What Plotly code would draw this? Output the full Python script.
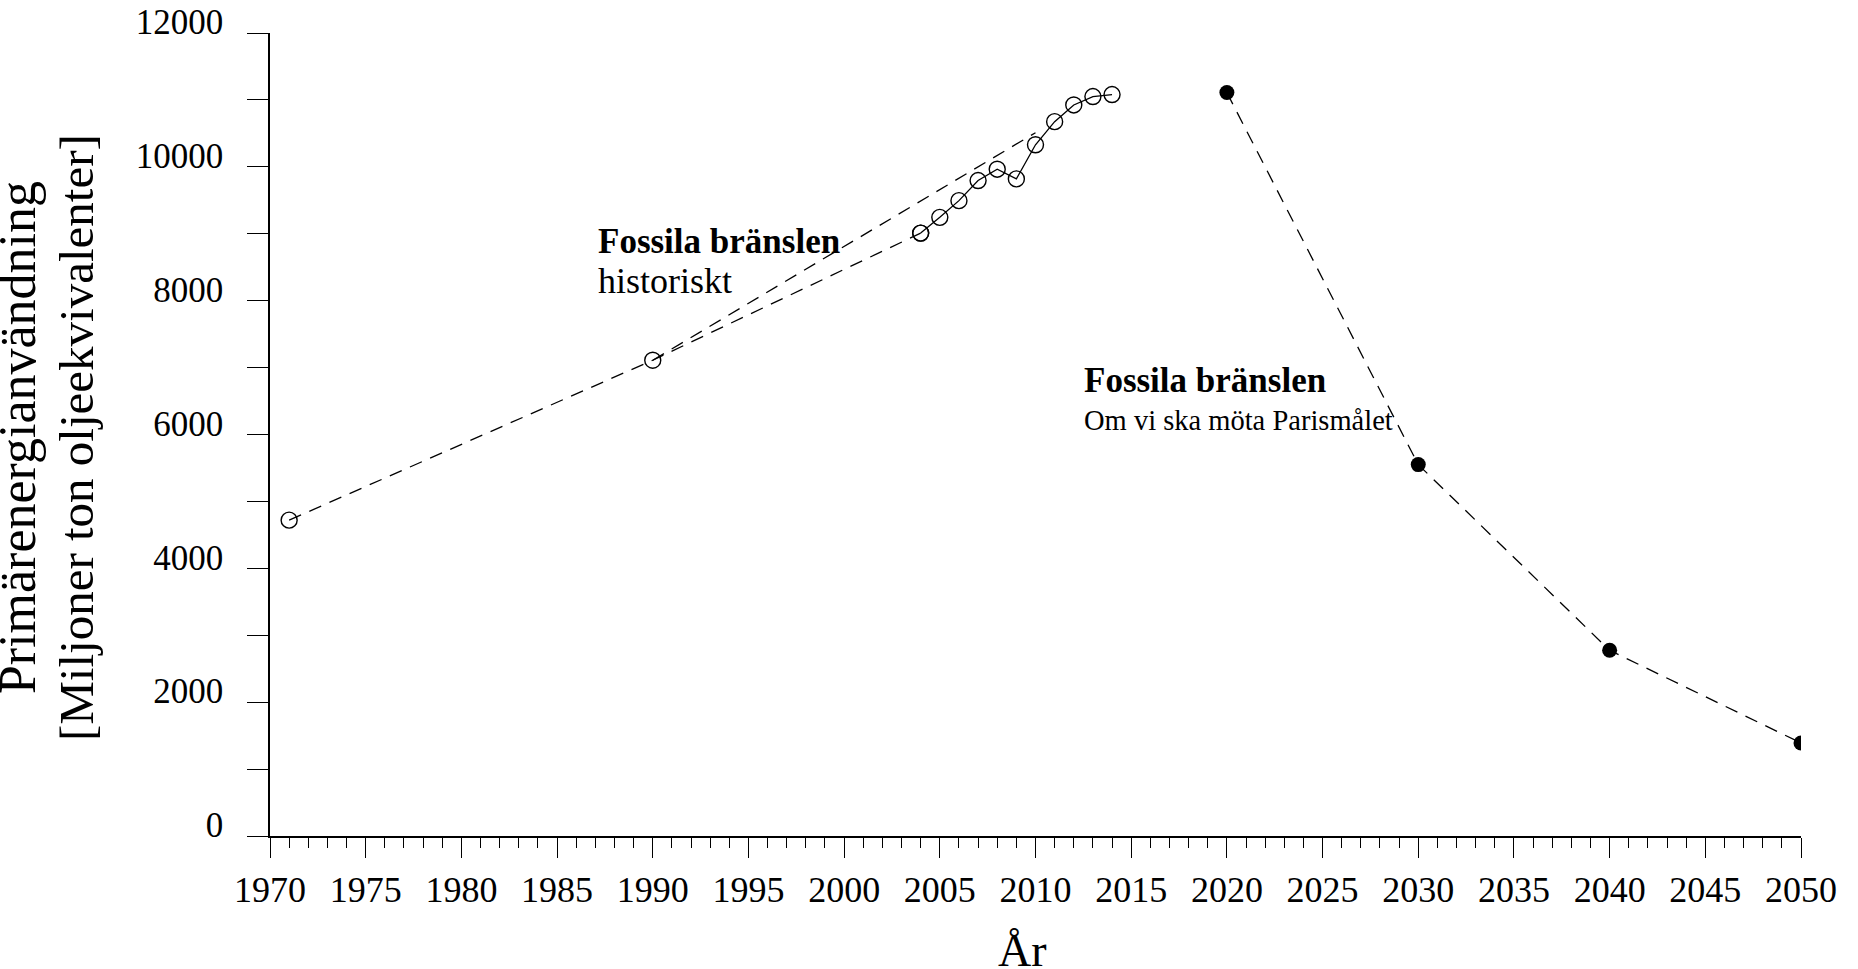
import plotly.graph_objects as go

# ---------------------------------------------------
# DATA
# ---------------------------------------------------

early_years = [1971, 1990, 2004]
early_values = [4720, 7110, 9010]

recent_years = [2004, 2005, 2006, 2007, 2008, 2009, 2010, 2011, 2012, 2013, 2014]
recent_values = [9010, 9245, 9495, 9795, 9965, 9820, 10330, 10675, 10925, 11050, 11080]

trend_years = [1990, 2010]
trend_values = [7110, 10510]

paris_years = [2020, 2030, 2040, 2050]
paris_values = [11110, 5550, 2775, 1390]

FONT = "Liberation Serif, Times New Roman, serif"
DASH = "13px,9px"

fig = go.Figure()

# historical, dashed part
fig.add_trace(go.Scatter(
    x=early_years, y=early_values,
    mode="lines+markers",
    line=dict(color="black", width=1.3, dash=DASH),
    marker=dict(symbol="circle-open", size=16, color="black", line=dict(width=1.4)),
    showlegend=False
))

# upper dashed line from 1990
fig.add_trace(go.Scatter(
    x=trend_years, y=trend_values,
    mode="lines",
    line=dict(color="black", width=1.3, dash=DASH),
    showlegend=False
))

# historical, yearly values
fig.add_trace(go.Scatter(
    x=recent_years, y=recent_values,
    mode="lines+markers",
    line=dict(color="black", width=1.3),
    marker=dict(symbol="circle-open", size=16, color="black", line=dict(width=1.4)),
    showlegend=False
))

# Paris path
fig.add_trace(go.Scatter(
    x=paris_years, y=paris_values,
    mode="lines+markers",
    line=dict(color="black", width=1.3, dash=DASH),
    marker=dict(symbol="circle", size=15, color="black"),
    showlegend=False
))

# ---------------------------------------------------
# TEXT
# ---------------------------------------------------

fig.add_annotation(x=1987.05, y=8880, xref="x", yref="y", text="<b>Fossila bränslen</b>",
                   showarrow=False, xanchor="left", yanchor="middle",
                   font=dict(family=FONT, size=35, color="black"))
fig.add_annotation(x=1987.05, y=8290, xref="x", yref="y", text="historiskt",
                   showarrow=False, xanchor="left", yanchor="middle",
                   font=dict(family=FONT, size=36, color="black"))
fig.add_annotation(x=2012.41, y=6800, xref="x", yref="y", text="<b>Fossila bränslen</b>",
                   showarrow=False, xanchor="left", yanchor="middle",
                   font=dict(family=FONT, size=35, color="black"))
fig.add_annotation(x=2012.41, y=6205, xref="x", yref="y", text="Om vi ska möta Parismålet",
                   showarrow=False, xanchor="left", yanchor="middle",
                   font=dict(family=FONT, size=28.5, color="black"))

# y axis title, two lines (first one runs off the page edge)
fig.add_annotation(x=-0.165, y=0.496, xref="paper", yref="paper", text="Primärenergianvändning",
                   textangle=-90, showarrow=False, xanchor="center", yanchor="middle",
                   font=dict(family=FONT, size=52, color="black"))
fig.add_annotation(x=-0.1265, y=0.496, xref="paper", yref="paper", text="[Miljoner ton oljeekvivalenter]",
                   textangle=-90, showarrow=False, xanchor="center", yanchor="middle",
                   font=dict(family=FONT, size=49, color="black"))

# x axis title
fig.add_annotation(x=0.4917, y=-0.1425, xref="paper", yref="paper", text="År",
                   showarrow=False, xanchor="center", yanchor="middle",
                   font=dict(family=FONT, size=46, color="black"))

# ---------------------------------------------------
# AXES
# ---------------------------------------------------

fig.update_xaxes(
    range=[1970, 2050], dtick=5, tick0=1970, automargin=False,
    showgrid=False, zeroline=False,
    showline=True, linecolor="black", linewidth=1.5,
    ticks="outside", ticklen=20, tickwidth=1.3, tickcolor="black",
    minor=dict(dtick=1, ticks="outside", ticklen=10, tickwidth=1.3, tickcolor="black", showgrid=False),
    tickfont=dict(family=FONT, size=36, color="black"),
    ticklabelstandoff=1
)

fig.update_yaxes(
    range=[0, 12000], dtick=2000, tick0=0, tickformat="d", automargin=False,
    showgrid=False, zeroline=False,
    showline=True, linecolor="black", linewidth=1.5,
    ticks="outside", ticklen=21, tickwidth=1.3, tickcolor="black",
    minor=dict(dtick=1000, ticks="outside", ticklen=21, tickwidth=1.3, tickcolor="black", showgrid=False),
    tickfont=dict(family=FONT, size=35, color="black"),
    ticklabelstandoff=17, ticklabelshift=-11
)

fig.update_layout(
    width=1858, height=969,
    margin=dict(l=270, r=57, t=33, b=133),
    plot_bgcolor="white", paper_bgcolor="white",
    showlegend=False
)

fig.write_html(
    "out.html",
    config={"displayModeBar": False},
    post_script="document.body.style.margin='0';document.body.style.overflow='hidden';"
)
